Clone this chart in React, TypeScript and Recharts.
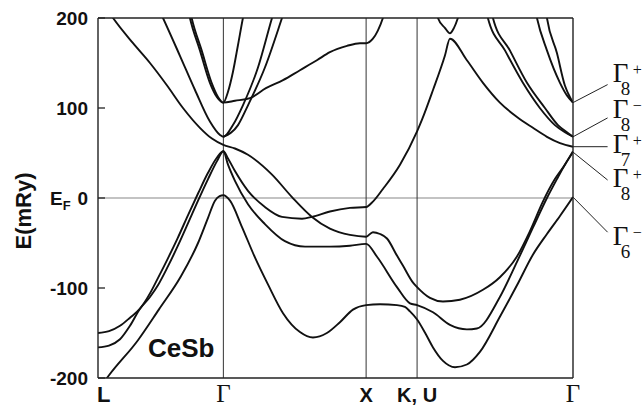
import { LineChart, Line, XAxis, YAxis, ReferenceLine, ReferenceDot } from "recharts"

// high-symmetry points along L–Γ–X–K,U–Γ (k in units of 2π/a)
const kPoints = [0, 0.866, 1.852, 2.204, 3.281]
const kLabels = ["L", "Γ", "X", "K, U", "Γ"]
const eTicks = [-200, -100, 0, 100, 200]

type Pt = [number, number]

// energy bands, [k, E (mRy)]
const bandLow: Pt[] = [
  [0, -214], [0.076, -197], [0.276, -158], [0.42, -124], [0.573, -87], [0.691, -50], [0.76, -22], [0.808, -3], [0.84, 2], [0.866, 3],
  [0.912, -3], [0.994, -32], [1.084, -66], [1.174, -96], [1.278, -128], [1.395, -149], [1.485, -155], [1.581, -150], [1.671, -138], [1.761, -124], [1.852, -119],
  [1.948, -118], [2.065, -119], [2.12, -121], [2.155, -126], [2.204, -135], [2.26, -150], [2.314, -166], [2.383, -181], [2.466, -188], [2.548, -185], [2.638, -171],
  [2.776, -132], [2.894, -97], [3.004, -63], [3.101, -40], [3.191, -20], [3.281, 1],
]

const bandQ: Pt[] = [
  [0, -166], [0.076, -164], [0.152, -157], [0.221, -142], [0.29, -123], [0.359, -110], [0.414, -97], [0.483, -76], [0.552, -53], [0.622, -28], [0.691, -3], [0.76, 21], [0.822, 41], [0.866, 52],
  [0.898, 37], [0.946, 19], [1.036, -7], [1.153, -29], [1.291, -48], [1.43, -54], [1.602, -54], [1.74, -53], [1.852, -51],
  [1.926, -65], [2.065, -99], [2.155, -117], [2.204, -119], [2.314, -127], [2.431, -141], [2.548, -146], [2.617, -145], [2.776, -110], [2.894, -71], [3.004, -33], [3.101, 0], [3.17, 21], [3.225, 37], [3.281, 51],
]

const bandP: Pt[] = [
  [0, -150], [0.076, -148], [0.152, -142], [0.221, -133], [0.29, -123], [0.359, -106], [0.414, -89], [0.483, -67], [0.552, -44], [0.622, -19], [0.691, 5], [0.76, 28], [0.822, 45], [0.866, 52],
  [0.898, 44], [0.946, 30], [1.036, 8], [1.153, -10], [1.271, -21], [1.409, -23], [1.478, -21], [1.602, -15], [1.74, -11], [1.852, -10],
  [1.899, -4], [1.968, 10], [2.086, 37], [2.204, 74], [2.238, 87], [2.314, 120], [2.396, 158], [2.431, 177],
  [2.548, 153], [2.659, 128], [2.776, 106], [2.894, 90], [3.004, 78], [3.101, 68], [3.191, 61], [3.281, 57],
]

const bandU1: Pt[] = [
  [0.05, 213], [0.104, 200], [0.242, 172], [0.359, 150], [0.477, 125], [0.587, 100], [0.704, 78], [0.787, 66], [0.866, 59],
  [0.946, 55], [1.036, 48], [1.202, 26], [1.34, 1], [1.478, -21], [1.602, -34], [1.74, -41], [1.852, -43],
  [1.899, -38], [1.948, -40], [1.996, -45], [2.065, -64], [2.106, -75], [2.176, -94], [2.204, -99], [2.293, -111], [2.383, -115], [2.5, -113],
  [2.659, -102], [2.776, -88], [2.894, -65], [2.983, -37], [3.073, -4], [3.156, 21], [3.225, 37], [3.281, 52],
]

const bandU2: Pt[] = [
  [0.42, 210], [0.449, 200], [0.566, 158], [0.67, 120], [0.773, 85], [0.843, 70], [0.866, 68],
  [0.932, 81], [1.001, 103], [1.105, 145], [1.202, 200], [1.23, 215],
]

const bandU3: Pt[] = [
  [0.866, 68], [0.967, 81], [1.036, 103], [1.153, 145], [1.271, 200], [1.3, 214],
]

const bandT1: Pt[] = [
  [0.615, 215], [0.635, 200], [0.704, 164], [0.773, 128], [0.822, 112], [0.866, 106],
  [0.946, 108], [1.05, 111], [1.16, 122], [1.278, 131], [1.395, 142], [1.512, 153], [1.602, 162], [1.72, 169], [1.809, 172], [1.852, 172],
  [1.899, 177], [1.933, 186], [1.968, 200], [1.99, 212],
]

const bandT2: Pt[] = [
  [0.627, 215], [0.647, 200], [0.716, 164], [0.785, 128], [0.83, 112], [0.866, 106],
  [0.898, 118], [0.932, 140], [0.967, 170], [1.001, 200], [1.02, 215],
]

const bandV: Pt[] = [
  [2.325, 216], [2.348, 200], [2.396, 189], [2.431, 183], [2.459, 189], [2.486, 200], [2.51, 213],
]

const bandR1: Pt[] = [
  [2.675, 212], [2.693, 200], [2.811, 164], [2.935, 128], [3.052, 100], [3.156, 81], [3.225, 73], [3.281, 68],
]

const bandR2: Pt[] = [
  [2.71, 212], [2.728, 200], [2.845, 164], [2.963, 128], [3.087, 100], [3.177, 81], [3.239, 73], [3.281, 68],
]

const bandR3: Pt[] = [
  [3.01, 218], [3.032, 200], [3.101, 164], [3.191, 128], [3.239, 114], [3.281, 106],
]

const bandR4: Pt[] = [
  [3.085, 218], [3.101, 200], [3.17, 161], [3.225, 125], [3.26, 112], [3.281, 106],
]

const bands = [bandLow, bandQ, bandP, bandU1, bandU2, bandU3, bandT1, bandT2, bandV, bandR1, bandR2, bandR3, bandR4]

// levels at the right-hand Γ point, with their symmetry labels
const gLevels = [106, 68, 57, 51, 1]
const gIndex = ["8", "8", "7", "8", "6"]
const gParity = ["+", "−", "+", "+", "−"]
const leaderTo = [126, 89, 57, 20, -38]
const labelAt = [129, 89, 50, 12, -52]

const K_END = 3.281
const K_LEADER = 3.52
const K_LABEL = 3.556

const sans = "'Liberation Sans', Arial, Helvetica, sans-serif"
const serif = "'Liberation Serif', 'Times New Roman', serif"
const ink = "#111"

function XTick({ x, y, payload }: any) {
  const i = kPoints.indexOf(payload.value)
  const txt = kLabels[i]
  if (txt === "Γ") {
    return (
      <text x={x} y={y + 24} textAnchor="middle" fontFamily={serif} fontSize={25} fill={ink}>
        Γ
      </text>
    )
  }
  return (
    <text
      x={i === 0 ? x - 1 : x}
      y={y + 24}
      textAnchor={i === 0 ? "start" : "middle"}
      fontFamily={sans}
      fontWeight="bold"
      fontSize={i === 0 ? 22 : 20}
      fill={ink}
    >
      {txt}
    </text>
  )
}

function YTick({ x, y, payload }: any) {
  const v = payload.value
  return (
    <g>
      <line x1={x + 10} x2={x + 17} y1={y} y2={y} stroke="#222" strokeWidth={1.3} />
      {v === 0 && (
        <text x={x - 38} y={y + 7} fontFamily={sans} fontWeight="bold" fontSize={19} fill={ink}>
          E
          <tspan fontSize={13} dy={5}>F</tspan>
        </text>
      )}
      <text x={x} y={y + 7} textAnchor="end" fontFamily={sans} fontWeight="bold" fontSize={19} fill={ink}>
        {v}
      </text>
    </g>
  )
}

const yLabel = (props: any) => {
  const vb = props.viewBox || { x: 0, y: 18, width: 98, height: 360 }
  const cx = vb.x + 31
  const cy = vb.y + vb.height / 2 + 13
  return (
    <text
      x={cx}
      y={cy}
      transform={`rotate(-90 ${cx} ${cy})`}
      textAnchor="middle"
      fontFamily={sans}
      fontWeight="bold"
      fontSize={22}
      fill={ink}
    >
      E(mRy)
    </text>
  )
}

// Γ with parity superscript and index subscript
const gammaShape = (i: number) => (p: any) => (
  <text x={p.cx} y={p.cy} fontFamily={serif} fontSize={27} fill={ink}>
    Γ
    <tspan x={p.cx + 20} dy={-7} fontSize={16}>{gParity[i]}</tspan>
    <tspan x={p.cx + 8} dy={20} fontSize={19}>{gIndex[i]}</tspan>
  </text>
)

const nameShape = (p: any) => (
  <text x={p.cx} y={p.cy} fontFamily={sans} fontWeight="bold" fontSize={26} fill={ink}>
    CeSb
  </text>
)

export default function App() {
  return (
    <div style={{ position: "absolute", left: 0, top: 0, width: 644, height: 408, background: "#fff" }}>
      <LineChart width={644} height={408} margin={{ top: 18, right: 71, bottom: 0, left: 0 }}>
        <XAxis
          type="number"
          dataKey="k"
          domain={[0, K_END]}
          ticks={kPoints}
          interval={0}
          allowDataOverflow
          axisLine={false}
          tickLine={false}
          tickSize={0}
          tickMargin={0}
          height={30}
          tick={<XTick />}
        />
        <YAxis
          type="number"
          domain={[-200, 200]}
          ticks={eTicks}
          interval={0}
          allowDataOverflow
          axisLine={false}
          tickLine={false}
          tickSize={0}
          tickMargin={10}
          width={98}
          tick={<YTick />}
          label={yLabel}
        />

        {/* Fermi level */}
        <ReferenceLine y={0} stroke="#888" strokeWidth={1.2} />

        {/* symmetry points */}
        {kPoints.slice(1, -1).map((k) => (
          <ReferenceLine key={`v${k}`} x={k} stroke="#333" strokeWidth={1} />
        ))}

        {bands.map((b, i) => (
          <Line
            key={`band${i}`}
            data={b.map(([k, e]) => ({ k, e }))}
            dataKey="e"
            type="monotone"
            stroke={ink}
            strokeWidth={1.9}
            dot={false}
            activeDot={false}
            isAnimationActive={false}
          />
        ))}

        {/* frame */}
        <ReferenceLine x={0} stroke="#222" strokeWidth={1.4} />
        <ReferenceLine x={K_END} stroke="#222" strokeWidth={1.4} />
        <ReferenceLine y={200} stroke="#222" strokeWidth={1.4} />
        <ReferenceLine y={-200} stroke="#222" strokeWidth={1.4} />

        {gLevels.map((g, i) => (
          <ReferenceLine
            key={`lead${i}`}
            segment={[{ x: K_END, y: g }, { x: K_LEADER, y: leaderTo[i] }]}
            ifOverflow="visible"
            stroke="#222"
            strokeWidth={1}
          />
        ))}
        {labelAt.map((e, i) => (
          <ReferenceDot key={`lab${i}`} x={K_LABEL} y={e} ifOverflow="visible" shape={gammaShape(i)} />
        ))}

        <ReferenceDot x={0.345} y={-177} ifOverflow="visible" shape={nameShape} />
      </LineChart>
    </div>
  )
}
